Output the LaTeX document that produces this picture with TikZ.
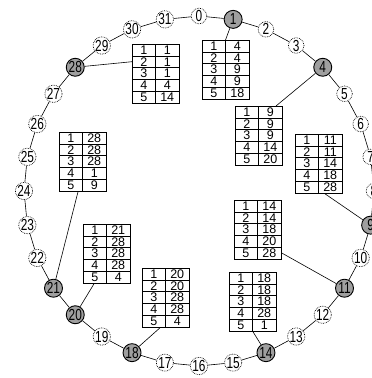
\documentclass[tikz,border=0pt]{standalone}
\usepackage{fontspec}
\setmainfont{Liberation Sans}
\newfontfamily\ringfont[FakeStretch=0.74]{Liberation Sans}
\usetikzlibrary{calc}
\tikzset{
  ringlabel/.style={font=\fontsize{16}{16}\selectfont\ringfont},
  ringgray/.style={circle, draw, line width=0.9pt, fill=gray!75, minimum size=18pt, inner sep=0pt, ringlabel},
  ringdot/.style={circle, draw, densely dotted, line width=0.7pt, fill=white, minimum size=15.5pt, inner sep=0pt, ringlabel},
  ringedge/.style={line width=0.6pt},
  tabframe/.style={draw, line width=0.8pt, minimum width=47pt, minimum height=59pt, inner sep=0pt, anchor=north west},
  tabline/.style={line width=0.6pt},
  tabtext/.style={font=\fontsize{12.5}{12.5}\selectfont, inner sep=0pt},
  link/.style={line width=0.6pt}
}
\newcommand\FingerTab[8]{%
  \node[tabframe] (#1) at (#2,#3) {};
  \draw[tabline] ($(#1.north west)+(23.5,0)$) -- ($(#1.south west)+(23.5,0)$);
  \foreach \k in {1,...,4} {\draw[tabline] ($(#1.north west)+(0,\k*11.8)$) -- ($(#1.north east)+(0,\k*11.8)$);}
  \foreach \k/\v in {1/#4,2/#5,3/#6,4/#7,5/#8} {
    \node[tabtext] (#1-a\k) at ($(#1.north west)+(11.75,{(\k-0.5)*11.8})$) {\k};
    \node[tabtext] (#1-b\k) at ($(#1.north west)+(35.25,{(\k-0.5)*11.8})$) {\v};
  }
}
\begin{document}
\begin{tikzpicture}[x=1pt,y=-1pt]
\useasboundingbox (0,0) rectangle (372,378);
\clip (0,0) rectangle (372,378);
% ring nodes
\foreach \i in {0,2,3,5,6,7,8,10,12,13,15,16,17,19,22,23,24,25,26,27,29,30,31}
  \node[ringdot] (n\i) at ({199+175*sin(\i*11.25)},{191-175*cos(\i*11.25)}) {\i};
\foreach \i in {1,4,9,11,14,18,20,21,28}
  \node[ringgray] (n\i) at ({199+175*sin(\i*11.25)},{191-175*cos(\i*11.25)}) {\i};
% ring edges
\foreach \i in {0,...,31} {
  \pgfmathtruncatemacro\j{mod(\i+1,32)}
  \draw[ringedge] (n\i) -- (n\j);
}
% finger tables
\FingerTab{t28}{132}{44}{1}{1}{1}{4}{14}
\FingerTab{t1}{202}{40}{4}{4}{9}{9}{18}
\FingerTab{t4}{235}{106}{9}{9}{9}{14}{20}
\FingerTab{t9}{295}{134}{11}{11}{14}{18}{28}
\FingerTab{t11}{234}{200}{14}{14}{18}{20}{28}
\FingerTab{t14}{229}{272}{18}{18}{18}{28}{1}
\FingerTab{t18}{142}{268}{20}{20}{28}{28}{4}
\FingerTab{t20}{83}{224}{21}{28}{28}{28}{4}
\FingerTab{t21}{59}{132}{28}{28}{28}{1}{9}
% connector ends
\coordinate (c28) at ($(t28.north west)+(0,17.7)$);
\coordinate (c1) at ($(t1.north west)+(23.5,0)$);
\coordinate (c4) at ($(t4.north west)+(41,0)$);
\coordinate (c9) at ($(t9.south west)+(30,0)$);
\coordinate (c11) at ($(t11.north east)+(0,53)$);
\coordinate (c14) at ($(t14.south west)+(24,0)$);
\coordinate (c18) at ($(t18.south west)+(18,0)$);
\coordinate (c20) at ($(t20.south west)+(11,0)$);
\coordinate (c21) at ($(t21.south west)+(19,0)$);
\foreach \n in {28,1,4,9,11,14,18,20,21}
  \draw[link] (n\n) -- (c\n);
\end{tikzpicture}
\end{document}
